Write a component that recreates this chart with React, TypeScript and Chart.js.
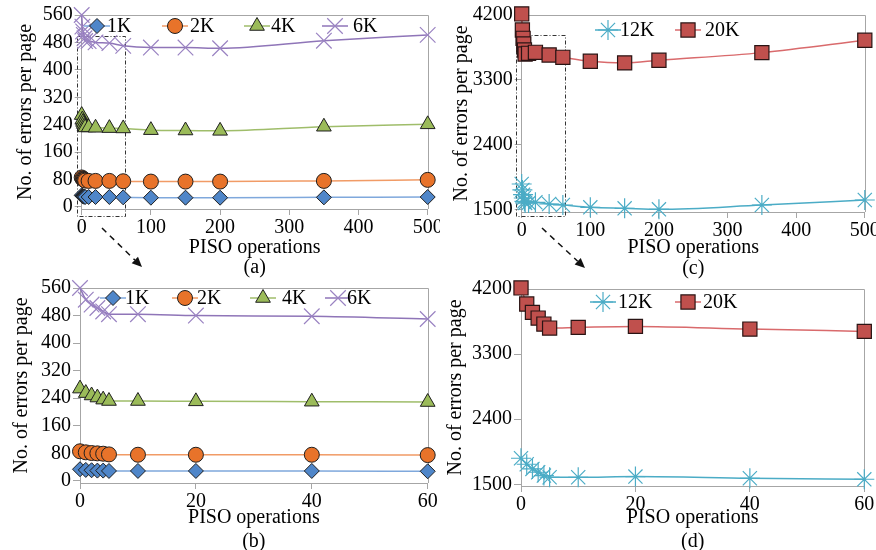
import React, { useEffect, useRef } from 'react';
import { Chart, registerables } from 'chart.js';

Chart.register(...registerables);

// ---------- data ----------
const pisoLong = [0, 1, 2, 3, 4, 5, 10, 20, 40, 60, 100, 150, 200, 350, 500];
const pisoShort = [0, 1, 2, 3, 4, 5, 10, 20, 40, 60];

const errors1K = [34, 32, 31, 30, 30, 29, 29, 29, 29, 28, 27, 27, 27, 28, 29];
const errors2K = [86, 83, 81, 80, 79, 77, 76, 76, 76, 75, 74, 74, 74, 76, 79];
const errors4K = [268, 255, 248, 242, 236, 232, 232, 231, 230, 229, 224, 223, 222, 234, 241];
const errors6K = [560, 526, 512, 502, 492, 484, 484, 480, 478, 470, 465, 465, 463, 485, 502];
const errors12K = [1860, 1777, 1712, 1666, 1620, 1597, 1597, 1606, 1583, 1569, 1537, 1523, 1509, 1569, 1638];
const errors20K = [4215, 3992, 3877, 3798, 3715, 3660, 3669, 3683, 3646, 3614, 3560, 3537, 3573, 3679, 3850];

const yTicksSmall = [0, 80, 160, 240, 320, 400, 480, 560];
const yTicksLarge = [1500, 2400, 3300, 4200];
const xTicksLong = [0, 100, 200, 300, 400, 500];
const xTicksShort = [0, 20, 40, 60];

const labelsSmall = ['1K', '2K', '4K', '6K'];
const labelsLarge = ['12K', '20K'];

// ---------- styles ----------
const FONT = 'Liberation Serif';
const FRAME = '#a6a6a6';

type SeriesStyle = { style: string; r: number; fill: string; border: string; bw: number; line: string };
const STYLES: Record<string, SeriesStyle> = {
  '1K': { style: 'rectRot', r: 7.5, fill: '#4f86c9', border: '#1f1f1f', bw: 1, line: '#7fa8dc' },
  '2K': { style: 'circle', r: 7.5, fill: '#e8732a', border: '#1f1f1f', bw: 1, line: '#f19b66' },
  '4K': { style: 'triangle', r: 8.5, fill: '#9bbb59', border: '#1f1f1f', bw: 1, line: '#9fbd6a' },
  '6K': { style: 'crossRot', r: 11, fill: '#9a83c2', border: '#9a83c2', bw: 1.2, line: '#8f75b8' },
  '12K': { style: 'star', r: 10, fill: '#4bacc6', border: '#4bacc6', bw: 1.2, line: '#4bacc6' },
  '20K': { style: 'rect', r: 10, fill: '#c0504d', border: '#2a1414', bw: 1.2, line: '#d96a6c' },
};

const valuesBy: Record<string, number[]> = {
  '1K': errors1K, '2K': errors2K, '4K': errors4K, '6K': errors6K, '12K': errors12K, '20K': errors20K,
};

function drawMarker(ctx: CanvasRenderingContext2D, s: SeriesStyle, x: number, y: number) {
  const r = s.r;
  ctx.save();
  ctx.beginPath();
  ctx.lineWidth = s.bw;
  ctx.strokeStyle = s.border;
  ctx.fillStyle = s.fill;
  let fill = true;
  switch (s.style) {
    case 'circle':
      ctx.arc(x, y, r, 0, Math.PI * 2);
      break;
    case 'rectRot':
      ctx.moveTo(x, y - r); ctx.lineTo(x + r, y); ctx.lineTo(x, y + r); ctx.lineTo(x - r, y); ctx.closePath();
      break;
    case 'rect': {
      const h = r * Math.SQRT1_2;
      ctx.rect(x - h, y - h, 2 * h, 2 * h);
      break;
    }
    case 'triangle': {
      const a = Math.PI * 2 / 3;
      ctx.moveTo(x, y - r);
      ctx.lineTo(x + Math.sin(a) * r, y - Math.cos(a) * r);
      ctx.lineTo(x + Math.sin(2 * a) * r, y - Math.cos(2 * a) * r);
      ctx.closePath();
      break;
    }
    case 'crossRot': {
      fill = false;
      const d = r * Math.SQRT1_2;
      ctx.moveTo(x - d, y - d); ctx.lineTo(x + d, y + d);
      ctx.moveTo(x - d, y + d); ctx.lineTo(x + d, y - d);
      break;
    }
    case 'star': {
      fill = false;
      const d = r * Math.SQRT1_2;
      ctx.moveTo(x - d, y - d); ctx.lineTo(x + d, y + d);
      ctx.moveTo(x - d, y + d); ctx.lineTo(x + d, y - d);
      ctx.moveTo(x, y - r); ctx.lineTo(x, y + r);
      ctx.moveTo(x - r, y); ctx.lineTo(x + r, y);
      break;
    }
  }
  if (fill) ctx.fill();
  ctx.stroke();
  ctx.restore();
}

const decorPlugin = {
  id: 'decor',
  beforeDatasetsDraw(chart: any, _args: any, opts: any) {
    const { ctx, chartArea: a, scales } = chart;
    ctx.save();
    ctx.strokeStyle = FRAME;
    ctx.lineWidth = 1;
    ctx.beginPath();
    ctx.moveTo(a.left, Math.round(a.top) + 0.5);
    ctx.lineTo(Math.round(a.right) + 0.5, Math.round(a.top) + 0.5);
    ctx.lineTo(Math.round(a.right) + 0.5, a.bottom);
    ctx.stroke();
    if (opts.box) {
      const b = opts.box;
      const x0 = scales.x.getPixelForValue(b.x0);
      const x1 = scales.x.getPixelForValue(b.x1);
      const y0 = scales.y.getPixelForValue(b.y0);
      const y1 = scales.y.getPixelForValue(b.y1);
      ctx.strokeStyle = '#333';
      ctx.setLineDash([4, 2, 1, 2]);
      ctx.strokeRect(Math.round(x0) + 0.5, Math.round(y1) + 0.5, Math.round(x1 - x0), Math.round(y0 - y1));
    }
    ctx.restore();
  },
  afterDraw(chart: any, _args: any, opts: any) {
    const { ctx } = chart;
    ctx.save();
    // legend
    (opts.legend || []).forEach((it: any) => {
      const s = STYLES[it.label];
      ctx.strokeStyle = s.line;
      ctx.lineWidth = 1.5;
      ctx.beginPath();
      ctx.moveTo(it.cx - 13, opts.legendY);
      ctx.lineTo(it.cx + 13, opts.legendY);
      ctx.stroke();
      drawMarker(ctx, s, it.cx, opts.legendY);
      ctx.fillStyle = '#000';
      ctx.font = `20px "${FONT}"`;
      ctx.textBaseline = 'middle';
      ctx.textAlign = 'left';
      ctx.fillText(it.label, it.tx, opts.legendY + 1);
    });
    if (opts.arrow) {
      const { x0, y0, x1, y1 } = opts.arrow;
      const ang = Math.atan2(y1 - y0, x1 - x0);
      const hl = 10;
      ctx.strokeStyle = '#111';
      ctx.lineWidth = 1.5;
      ctx.setLineDash([6, 5]);
      ctx.beginPath();
      ctx.moveTo(x0, y0);
      ctx.lineTo(x1 - Math.cos(ang) * hl, y1 - Math.sin(ang) * hl);
      ctx.stroke();
      ctx.setLineDash([]);
      ctx.fillStyle = '#111';
      ctx.beginPath();
      ctx.moveTo(x1, y1);
      ctx.lineTo(x1 - Math.cos(ang) * hl + Math.sin(ang) * 4.5, y1 - Math.sin(ang) * hl - Math.cos(ang) * 4.5);
      ctx.lineTo(x1 - Math.cos(ang) * hl - Math.sin(ang) * 4.5, y1 - Math.sin(ang) * hl + Math.cos(ang) * 4.5);
      ctx.closePath();
      ctx.fill();
    }
    ctx.restore();
  },
};

type PanelCfg = {
  id: string; left: number; top: number; width: number; height: number;
  areaLeft: number; areaRight: number; areaTop: number; areaBottom: number;
  xs: number[]; xTicks: number[]; xMax: number;
  yTicks: number[]; yMin: number; yMax: number;
  labels: string[];
  yTitleX: number; titleLH: number; titleLine2Y: number;
  legendY: number; legend: { label: string; cx: number; tx: number }[];
  box?: { x0: number; x1: number; y0: number; y1: number };
  arrow?: { x0: number; y0: number; x1: number; y1: number };
};

const panels: PanelCfg[] = [
  {
    id: 'a', left: 0, top: 0, width: 440, height: 290,
    areaLeft: 81.7, areaRight: 427.7, areaTop: 15, areaBottom: 209,
    xs: pisoLong, xTicks: xTicksLong, xMax: 500,
    yTicks: yTicksSmall, yMin: -6, yMax: 560, labels: labelsSmall,
    yTitleX: 26, titleLH: 20, titleLine2Y: 268,
    legendY: 26,
    legend: [
      { label: '1K', cx: 97, tx: 107 }, { label: '2K', cx: 175, tx: 190 },
      { label: '4K', cx: 257, tx: 271 }, { label: '6K', cx: 335, tx: 353 },
    ],
    box: { x0: -7, x1: 63, y0: -24, y1: 500 },
    arrow: { x0: 102, y0: 228, x1: 142, y1: 267 },
  },
  {
    id: 'b', left: 0, top: 275, width: 440, height: 285,
    areaLeft: 80, areaRight: 427.7, areaTop: 13, areaBottom: 208,
    xs: pisoShort, xTicks: xTicksShort, xMax: 60,
    yTicks: yTicksSmall, yMin: -6, yMax: 560, labels: labelsSmall,
    yTitleX: 22, titleLH: 24, titleLine2Y: 267,
    legendY: 23,
    legend: [
      { label: '1K', cx: 113, tx: 125 }, { label: '2K', cx: 185, tx: 197 },
      { label: '4K', cx: 263, tx: 282 }, { label: '6K', cx: 338, tx: 347 },
    ],
  },
  {
    id: 'c', left: 440, top: 0, width: 436, height: 290,
    areaLeft: 81.7, areaRight: 425, areaTop: 15, areaBottom: 212,
    xs: pisoLong, xTicks: xTicksLong, xMax: 500,
    yTicks: yTicksLarge, yMin: 1472, yMax: 4200, labels: labelsLarge,
    yTitleX: 22, titleLH: 21, titleLine2Y: 269,
    legendY: 30,
    legend: [{ label: '12K', cx: 168, tx: 180 }, { label: '20K', cx: 248, tx: 265 }],
    box: { x0: -8, x1: 63, y0: 1408, y1: 3919 },
    arrow: { x0: 102, y0: 228, x1: 145, y1: 268 },
  },
  {
    id: 'd', left: 440, top: 275, width: 436, height: 285,
    areaLeft: 81, areaRight: 424.3, areaTop: 14, areaBottom: 211,
    xs: pisoShort, xTicks: xTicksShort, xMax: 60,
    yTicks: yTicksLarge, yMin: 1476, yMax: 4200, labels: labelsLarge,
    yTitleX: 16, titleLH: 24, titleLine2Y: 267,
    legendY: 27,
    legend: [{ label: '12K', cx: 163, tx: 178 }, { label: '20K', cx: 248, tx: 263 }],
  },
];

function buildConfig(p: PanelCfg): any {
  const datasets = p.labels.map((name) => {
    const s = STYLES[name];
    const vals = valuesBy[name];
    return {
      label: name,
      data: p.xs.map((x, i) => ({ x, y: vals[i] })),
      borderColor: s.line,
      backgroundColor: s.fill,
      borderWidth: 1.5,
      pointStyle: s.style,
      pointRadius: s.r,
      pointBackgroundColor: s.fill,
      pointBorderColor: s.border,
      pointBorderWidth: s.bw,
      cubicInterpolationMode: 'monotone',
      clip: false,
      fill: false,
    };
  });
  const tickFont = { family: FONT, size: 20 };
  const plain = (v: any) => String(v);
  return {
    type: 'line',
    data: { datasets },
    plugins: [decorPlugin],
    options: {
      animation: false,
      responsive: false,
      maintainAspectRatio: false,
      events: [],
      layout: { padding: { left: 0, top: p.areaTop, right: p.width - p.areaRight, bottom: 0 } },
      plugins: {
        legend: { display: false },
        tooltip: { enabled: false },
        decor: { legend: p.legend, legendY: p.legendY, box: p.box || null, arrow: p.arrow || null },
      },
      scales: {
        x: {
          type: 'linear',
          min: 0,
          max: p.xMax,
          afterBuildTicks: (sc: any) => { sc.ticks = p.xTicks.map((v) => ({ value: v })); },
          afterFit: (sc: any) => {
            sc.height = p.height - p.areaBottom;
            sc.paddingLeft = 0; sc.paddingRight = 0;
          },
          grid: { display: true, drawOnChartArea: false, drawTicks: true, tickLength: 6, color: FRAME },
          border: { display: true, color: FRAME, width: 1 },
          ticks: { color: '#000', font: tickFont, padding: 1, maxRotation: 0, autoSkip: false, callback: plain },
          title: {
            display: true,
            text: ['PISO operations', `(${p.id})`],
            color: '#000',
            font: { family: FONT, size: 20, lineHeight: p.titleLH / 20 },
            padding: { top: 0, bottom: p.height - p.titleLine2Y - p.titleLH / 2 },
          },
        },
        y: {
          type: 'linear',
          min: p.yMin,
          max: p.yMax,
          afterBuildTicks: (sc: any) => { sc.ticks = p.yTicks.map((v) => ({ value: v })); },
          afterFit: (sc: any) => {
            sc.width = p.areaLeft;
            sc.paddingTop = 0; sc.paddingBottom = 0;
          },
          grid: { display: true, drawOnChartArea: false, drawTicks: true, tickLength: 7, color: FRAME },
          border: { display: true, color: FRAME, width: 1 },
          ticks: { color: '#000', font: tickFont, padding: 2, autoSkip: false, callback: plain },
          title: {
            display: true,
            text: 'No. of errors per page',
            color: '#000',
            font: { family: FONT, size: 20, lineHeight: 1 },
            padding: { top: p.yTitleX - 10, bottom: 0 },
          },
        },
      },
    },
  };
}

function Panel({ cfg }: { cfg: PanelCfg }) {
  const ref = useRef<HTMLCanvasElement>(null);
  useEffect(() => {
    if (!ref.current) return;
    const chart = new Chart(ref.current, buildConfig(cfg));
    return () => chart.destroy();
  }, [cfg]);
  return (
    <canvas
      ref={ref}
      width={cfg.width}
      height={cfg.height}
      style={{ position: 'absolute', left: cfg.left, top: cfg.top, width: cfg.width, height: cfg.height }}
    />
  );
}

export default function App() {
  return (
    <div style={{ position: 'fixed', left: 0, top: 0, width: 876, height: 550, overflow: 'hidden', background: '#fff' }}>
      {panels.map((p) => (
        <Panel key={p.id} cfg={p} />
      ))}
    </div>
  );
}
